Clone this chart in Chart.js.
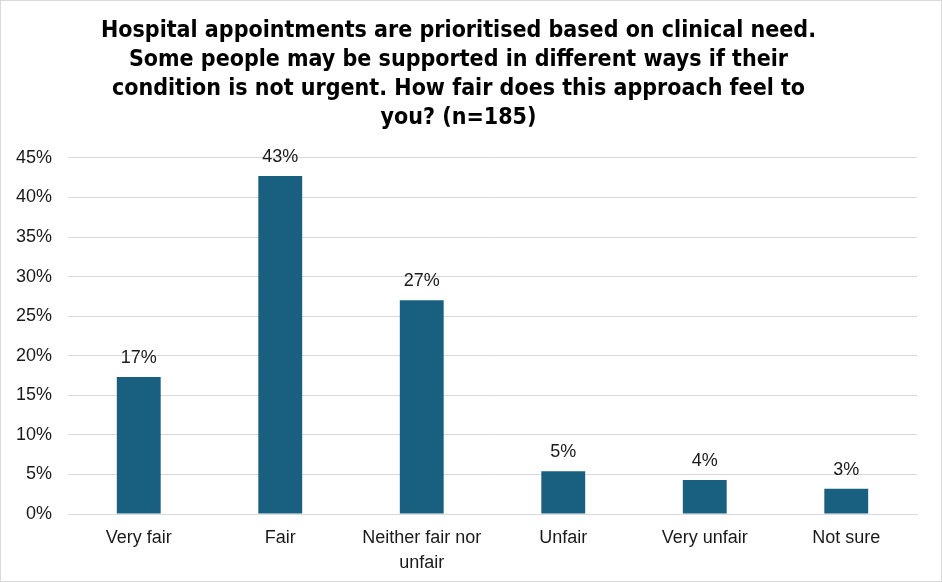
<!DOCTYPE html>
<html>
<head>
<meta charset="utf-8">
<script src="https://cdn.jsdelivr.net/npm/chart.js@4"></script>
<style>
  html, body { margin:0; padding:0; background:#fff; }
  #wrap { width:942px; height:582px; position:relative; }
</style>
</head>
<body>
<div id="wrap"><canvas id="chart" width="942" height="582"></canvas></div>
<script>
// chart data
const categories = ['Very fair', 'Fair', ['Neither fair nor', 'unfair'], 'Unfair', 'Very unfair', 'Not sure'];
const percentValues = [17.3, 42.7, 27.0, 5.4, 4.3, 3.2];
const tickValues = [0, 5, 10, 15, 20, 25, 30, 35, 40, 45];
const titleLines = [
    'Hospital appointments are prioritised based on clinical need.',
    'Some people may be supported in different ways if their',
    'condition is not urgent. How fair does this approach feel to',
    'you? (n=185)'
];

const barColor = '#185f80';
const gridColor = '#d9d9d9';
const textColor = '#1a1a1a';
const baseFont = '"Liberation Sans", Arial, sans-serif';

// outer border like the spreadsheet chart area
const borderPlugin = {
    id: 'outerBorder',
    beforeDraw(chart){
        const c = chart.ctx;
        c.save();
        c.fillStyle = '#fff';
        c.fillRect(0, 0, chart.width, chart.height);
        c.strokeStyle = gridColor;
        c.lineWidth = 1;
        c.strokeRect(0.5, 0.5, chart.width - 1, chart.height - 1);
        c.restore();
    }
};

// value labels above each bar
const valueLabels = {
    id: 'valueLabels',
    afterDatasetsDraw(chart){
        const c = chart.ctx;
        const meta = chart.getDatasetMeta(0);
        c.save();
        c.font = '18px ' + baseFont;
        c.fillStyle = textColor;
        c.textAlign = 'center';
        c.textBaseline = 'bottom';
        meta.data.forEach((bar, i)=>{
            c.fillText(Math.round(percentValues[i]) + '%', bar.x, bar.y - 10);
        });
        c.restore();
    }
};

new Chart(document.getElementById('chart').getContext('2d'), {
    type: 'bar',
    data: {
        labels: categories,
        datasets: [{
            data: percentValues,
            backgroundColor: barColor,
            categoryPercentage: 1,
            barPercentage: 0.31
        }]
    },
    options: {
        responsive: false,
        animation: false,
        layout: { padding: { left: 0, right: 25, top: 0, bottom: 0 } },
        plugins: {
            legend: { display: false },
            tooltip: { enabled: false },
            title: {
                display: true,
                text: titleLines,
                color: '#000',
                font: { family: '"DejaVu Sans Condensed", ' + baseFont, size: 23, weight: 'bold', lineHeight: 1.26 },
                padding: { top: 17, bottom: 25 }
            }
        },
        scales: {
            x: {
                afterFit(axis){ axis.height = 68; },
                grid: { display: false, drawTicks: false },
                border: { color: gridColor, width: 1 },
                ticks: { color: textColor, font: { family: baseFont, size: 18, lineHeight: 1.4 }, padding: 11, maxRotation: 0, autoSkip: false }
            },
            y: {
                min: 0,
                max: 45,
                afterBuildTicks(axis){ axis.ticks = tickValues.map(v=>({value: v})); },
                afterFit(axis){ axis.width = 68; },
                grid: { color: gridColor, lineWidth: 1, drawTicks: false },
                border: { display: false },
                ticks: {
                    color: textColor,
                    font: { family: baseFont, size: 18 },
                    padding: 16,
                    callback: v=>v + '%'
                }
            }
        }
    },
    plugins: [borderPlugin, valueLabels]
});
</script>
</body>
</html>
